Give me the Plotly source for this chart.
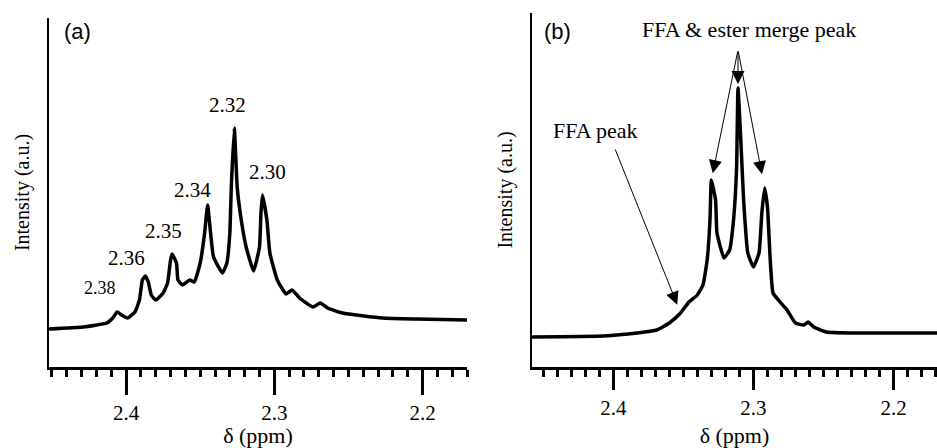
import numpy as np
import plotly.graph_objects as go

# ---------------- data ----------------
# Panel (a): chemical shift (ppm) and intensity (a.u.)
a_ppm = [2.452, 2.429, 2.413, 2.409, 2.406, 2.403, 2.399, 2.394, 2.391, 2.389,
         2.387, 2.385, 2.383, 2.380, 2.375, 2.372, 2.370, 2.369, 2.366, 2.365,
         2.362, 2.357, 2.354, 2.350, 2.347, 2.345, 2.343, 2.341, 2.335, 2.332,
         2.330, 2.329, 2.327, 2.325, 2.323, 2.319, 2.314, 2.310, 2.309, 2.308,
         2.305, 2.303, 2.298, 2.292, 2.288, 2.283, 2.274, 2.269, 2.264, 2.254,
         2.227, 2.204, 2.170]
a_int = [38, 40, 44, 49, 55, 52, 49, 55, 67, 87,
         91, 85, 72, 67, 74, 84, 107, 113, 104, 87,
         82, 87, 85, 104, 134, 162, 134, 110, 94, 104,
         134, 180, 239, 179, 154, 120, 96, 120, 154, 172,
         147, 114, 87, 73, 77, 69, 60, 64, 59, 54,
         49, 48, 47]
a_peak_labels = ["2.38", "2.36", "2.35", "2.34", "2.32", "2.30"]
a_peak_ppm = [2.406, 2.387, 2.369, 2.345, 2.327, 2.308]

# Panel (b)
b_ppm = [2.458, 2.407, 2.383, 2.369, 2.360, 2.352, 2.346, 2.340, 2.336, 2.333,
         2.331, 2.330, 2.327, 2.326, 2.321, 2.317, 2.314, 2.312, 2.311, 2.309,
         2.307, 2.304, 2.300, 2.296, 2.294, 2.292, 2.290, 2.288, 2.286, 2.281,
         2.276, 2.270, 2.264, 2.261, 2.257, 2.248, 2.229, 2.169]
b_int = [30, 31, 34, 37, 44, 54, 65, 72, 82, 107,
         147, 187, 167, 134, 109, 117, 150, 200, 279, 227,
         167, 114, 100, 114, 154, 179, 160, 107, 74, 65,
         57, 44, 42, 45, 40, 35, 34, 34]
b_merge_ppm = [2.330, 2.311, 2.292]
b_ffa_ppm = 2.352

x_tickvals = [2.4, 2.3, 2.2]
x_ticktext = ["2.4", "2.3", "2.2"]

# ---------------- helpers ----------------
def at(ppm_list, int_list, x):
    xs = np.array(ppm_list)[::-1]
    ys = np.array(int_list)[::-1]
    return float(np.interp(x, xs, ys))

SERIF = "Times New Roman"
SANS = "Arial"
W, H = 937, 448

fig = go.Figure()
fig.add_trace(go.Scatter(x=a_ppm, y=a_int, mode="lines",
                         line=dict(color="black", width=3.5, shape="spline", smoothing=0.4),
                         xaxis="x", yaxis="y", showlegend=False, hoverinfo="skip"))
fig.add_trace(go.Scatter(x=b_ppm, y=b_int, mode="lines",
                         line=dict(color="black", width=3.5, shape="spline", smoothing=0.4),
                         xaxis="x2", yaxis="y2", showlegend=False, hoverinfo="skip"))

def xaxis_style(domain, rng, ticklen, anchor, title_standoff):
    return dict(domain=domain, range=rng, anchor=anchor,
                showline=True, linecolor="black", linewidth=3,
                ticks="outside", ticklen=ticklen, tickwidth=3, tickcolor="black",
                tickvals=x_tickvals, ticktext=x_ticktext,
                tickfont=dict(family=SERIF, size=21, color="black"),
                minor=dict(ticks="outside", ticklen=7, tickwidth=2.5, tickcolor="black",
                           dtick=0.01, tick0=2.0, showgrid=False),
                showgrid=False, zeroline=False, automargin=False,
                title=dict(text="δ (ppm)", font=dict(family=SERIF, size=22, color="black"),
                           standoff=title_standoff))

def yaxis_style(domain, rng, anchor):
    return dict(domain=domain, range=rng, anchor=anchor,
                showline=True, linecolor="black", linewidth=2,
                ticks="", showticklabels=False, showgrid=False, zeroline=False,
                automargin=False,
                title=dict(text="Intensity (a.u.)",
                           font=dict(family=SERIF, size=20, color="black"),
                           standoff=12))

fig.update_layout(
    width=W, height=H,
    margin=dict(l=0, r=0, t=0, b=0),
    paper_bgcolor="white", plot_bgcolor="white",
    xaxis=xaxis_style([49 / W, 467 / W], [2.452, 2.170], 25, "y", 6),
    yaxis=yaxis_style([81 / H, 430 / H], [0, 349], "x"),
    xaxis2=xaxis_style([532 / W, 1.0], [2.458, 2.169], 20, "y2", 17),
    yaxis2=yaxis_style([81 / H, 435 / H], [0, 354], "x2"),
)

ann = []
# panel labels
ann.append(dict(text="(a)", x=77 / W, y=1 - 32 / H, xref="paper", yref="paper",
                xanchor="center", yanchor="middle",
                showarrow=False, font=dict(family=SANS, size=22, color="black")))
ann.append(dict(text="(b)", x=557 / W, y=1 - 31 / H, xref="paper", yref="paper",
                xanchor="center", yanchor="middle",
                showarrow=False, font=dict(family=SANS, size=22, color="black")))

# peak labels for (a)
label_shift = {"2.38": (-17, 24, 18), "2.36": (-19, 18, 21), "2.35": (-9, 23, 21),
               "2.34": (-15, 15, 21), "2.32": (-7, 23, 21), "2.30": (5, 23, 21)}
for lab, p in zip(a_peak_labels, a_peak_ppm):
    dx, dy, fs = label_shift[lab]
    ann.append(dict(text=lab, x=p, y=at(a_ppm, a_int, p), xref="x", yref="y",
                    xanchor="center", yanchor="middle",
                    showarrow=False, xshift=dx, yshift=dy,
                    font=dict(family=SERIF, size=fs, color="black")))

# arrows for (b)
apex_x = b_merge_ppm[1]
apex_y = max(b_int) + 38
for p, so in zip(b_merge_ppm, [7, 4, 14]):
    ann.append(dict(text="", x=p, y=at(b_ppm, b_int, p), xref="x2", yref="y2",
                    ax=apex_x, ay=apex_y, axref="x2", ayref="y2",
                    showarrow=True, arrowhead=2, arrowsize=2.6, arrowwidth=1,
                    arrowcolor="black", standoff=so))
ann.append(dict(text="FFA & ester merge peak", x=749 / W, y=1 - 30 / H,
                xref="paper", yref="paper", xanchor="center", yanchor="middle",
                showarrow=False, font=dict(family=SERIF, size=22, color="black")))
ann.append(dict(text="", x=b_ffa_ppm, y=at(b_ppm, b_int, b_ffa_ppm), xref="x2", yref="y2",
                ax=2.399, ay=219, axref="x2", ayref="y2",
                showarrow=True, arrowhead=2, arrowsize=2.6, arrowwidth=1,
                arrowcolor="black", standoff=9))
ann.append(dict(text="FFA peak", x=595 / W, y=1 - 130 / H,
                xref="paper", yref="paper", xanchor="center", yanchor="middle",
                showarrow=False, font=dict(family=SERIF, size=22, color="black")))

fig.update_layout(annotations=ann)
fig.write_html("out.html", config={"displayModeBar": False},
               post_script="document.body.style.margin='0px';")
